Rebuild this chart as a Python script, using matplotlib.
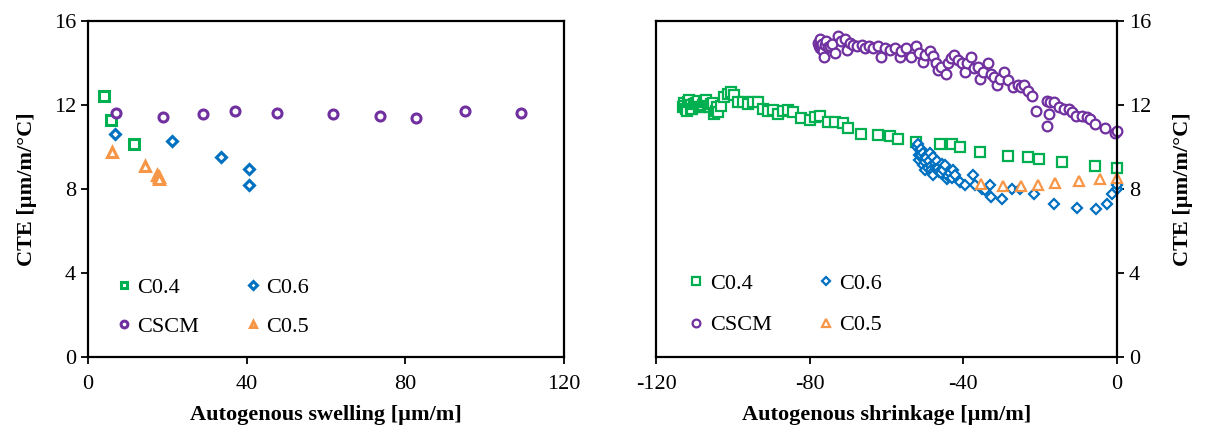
import matplotlib
matplotlib.use('Agg')
import matplotlib.pyplot as plt

plt.rcParams['font.family'] = ['Liberation Serif', 'DejaVu Serif']
plt.rcParams['axes.unicode_minus'] = False

# ---- data: left panel (autogenous swelling) ----
sw_c04_x = [4.0, 5.9, 11.6]
sw_c04_y = [12.43, 11.29, 10.13]
sw_c06_x = [6.8, 21.1, 33.5, 40.6, 40.6]
sw_c06_y = [10.59, 10.29, 9.49, 8.92, 8.18]
sw_cscm_x = [7.0, 19.0, 28.9, 37.0, 47.8, 61.8, 73.6, 82.7, 95.2, 109.3]
sw_cscm_y = [11.60, 11.40, 11.56, 11.68, 11.60, 11.56, 11.44, 11.35, 11.68, 11.60]
sw_c05_x = [6.1, 14.5, 17.5, 17.8, 18.0]
sw_c05_y = [9.73, 9.10, 8.65, 8.54, 8.46]

# ---- data: right panel (autogenous shrinkage) ----
sh_c04_x = [-113.0, -112.8, -112.6, -112.2, -112.0, -111.7, -111.4, -111.0, -110.9, -110.5,
            -110.0, -109.5, -109.1, -108.8, -108.3, -107.8, -107.4, -107.0, -106.5, -106.0,
            -105.7, -105.2, -104.8, -104.5, -104.0, -103.9, -103.0, -102.2, -101.3, -100.4,
            -99.6, -98.7, -97.4, -96.1, -94.8, -93.5, -92.2, -90.9, -89.6, -88.3,
            -87.0, -85.7, -84.3, -82.2, -80.0, -78.7, -77.4, -75.2, -73.3, -71.3,
            -70.0, -66.7, -62.3, -59.1, -57.0, -52.2, -46.1, -43.0, -40.9, -35.7,
            -28.3, -23.2, -20.4, -14.2, -5.8, 0.0]
sh_c04_y = [11.90, 12.10, 11.95, 11.80, 11.70, 12.11, 12.20, 12.00, 11.79, 11.80,
            12.03, 12.10, 12.19, 11.90, 11.87, 12.00, 12.11, 12.20, 11.95, 11.90,
            12.03, 12.10, 11.55, 11.70, 11.90, 11.63, 11.95, 12.35, 12.52, 12.60,
            12.44, 12.11, 12.11, 12.03, 12.11, 12.11, 11.79, 11.71, 11.74, 11.55,
            11.71, 11.74, 11.63, 11.35, 11.26, 11.42, 11.47, 11.19, 11.19, 11.15,
            10.90, 10.61, 10.58, 10.53, 10.39, 10.23, 10.15, 10.15, 9.98, 9.77,
            9.58, 9.53, 9.40, 9.27, 9.06, 9.00]

sh_c06_x = [-52.0, -51.9, -51.6, -51.5, -51.3, -51.0, -50.9, -50.5, -50.4, -50.0,
            -50.0, -49.8, -49.6, -49.1, -49.0, -48.7, -48.5, -48.3, -48.0, -47.8,
            -47.8, -47.4, -47.2, -46.8, -46.5, -46.2, -45.7, -45.5, -45.2, -44.8,
            -44.3, -44.0, -43.5, -43.0, -42.6, -42.2, -40.9, -39.6, -37.4, -37.0,
            -35.2, -34.3, -33.0, -32.8, -29.8, -27.4, -25.2, -21.7, -16.3, -10.4,
            -5.5, -2.6, -1.3, 0.0, 0.0]
sh_c06_y = [10.00, 10.13, 9.37, 9.60, 9.85, 9.90, 9.61, 9.70, 9.13, 9.29,
            8.90, 9.55, 9.45, 8.97, 9.30, 9.69, 9.10, 8.89, 8.80, 9.53,
            8.65, 9.21, 9.00, 9.30, 8.97, 8.80, 8.73, 9.20, 8.90, 9.13,
            8.48, 8.60, 8.73, 8.50, 8.89, 8.65, 8.32, 8.16, 8.65, 8.16,
            8.00, 7.92, 8.19, 7.60, 7.52, 7.97, 8.00, 7.76, 7.27, 7.08,
            7.03, 7.27, 7.76, 8.00, 8.16]

sh_cscm_x = [-77.8, -77.6, -77.4, -77.2, -77.0, -76.8, -76.5, -76.3, -76.0, -75.7,
             -75.3, -74.8, -74.2, -73.5, -72.6, -71.9, -70.9, -70.2, -69.6, -68.7,
             -67.8, -66.5, -65.7, -64.6, -63.5, -62.2, -61.3, -60.4, -59.1, -57.8,
             -56.5, -56.1, -54.8, -53.5, -52.2, -51.6, -50.4, -50.0, -48.7, -47.8,
             -47.2, -46.7, -45.7, -44.6, -43.9, -43.2, -42.3, -41.3, -40.4, -39.6,
             -39.1, -38.0, -37.1, -36.1, -35.7, -34.8, -33.7, -32.8, -31.9, -31.3,
             -30.4, -29.3, -28.3, -27.0, -25.8, -25.0, -24.1, -23.2, -22.2, -21.1,
             -18.3, -18.3, -17.8, -17.4, -16.3, -15.2, -13.9, -12.6, -11.6, -10.7,
             -9.1, -7.8, -7.0, -5.8, -3.0, -0.4, -0.1]
sh_cscm_y = [14.94, 14.80, 15.10, 14.70, 14.77, 14.90, 14.53, 14.29, 14.85, 15.02,
             14.75, 14.77, 14.90, 14.45, 15.26, 15.02, 15.10, 14.61, 14.94, 14.85,
             14.77, 14.85, 14.69, 14.77, 14.69, 14.77, 14.29, 14.69, 14.61, 14.69,
             14.29, 14.53, 14.69, 14.29, 14.77, 14.45, 14.05, 14.37, 14.53, 14.32,
             14.00, 13.65, 13.81, 13.45, 13.97, 14.21, 14.37, 14.13, 13.97, 13.56,
             13.97, 14.29, 13.73, 13.81, 13.24, 13.56, 13.97, 13.48, 13.32, 12.92,
             13.24, 13.56, 13.19, 12.84, 12.92, 12.84, 12.92, 12.65, 12.39, 11.71,
             12.19, 10.98, 11.55, 12.11, 12.11, 11.87, 11.79, 11.79, 11.63, 11.47,
             11.47, 11.39, 11.31, 11.06, 10.87, 10.66, 10.74]

sh_c05_x = [-35.4, -29.6, -25.0, -20.6, -16.1, -10.0, -4.3, 0.0]
sh_c05_y = [8.21, 8.13, 8.11, 8.16, 8.29, 8.37, 8.45, 8.52]

labels = ['C0.4', 'CSCM', 'C0.6', 'C0.5']
colors = ['#00B050', '#7030A0', '#0070C0', '#F79646']
markers = ['s', 'o', 'D', '^']

fig = plt.figure(figsize=(12.07, 4.37), dpi=100)
ax1 = fig.add_axes([0.0729, 0.183, 0.394, 0.770])
ax2 = fig.add_axes([0.5435, 0.183, 0.3819, 0.770])


def draw(ax, series, ms, mew):
    handles = []
    for (x, y), lab, c, m in zip(series, labels, colors, markers):
        size = ms * 0.8 if m == 'D' else ms
        h, = ax.plot(x, y, linestyle='none', marker=m, markersize=size,
                     markerfacecolor='white', markeredgecolor=c,
                     markeredgewidth=mew, label=lab, clip_on=False)
        handles.append(h)
    return handles


h1 = draw(ax1, [(sw_c04_x, sw_c04_y), (sw_cscm_x, sw_cscm_y),
                (sw_c06_x, sw_c06_y), (sw_c05_x, sw_c05_y)], 6.5, 2.2)
h2 = draw(ax2, [(sh_c04_x, sh_c04_y), (sh_cscm_x, sh_cscm_y),
                (sh_c06_x, sh_c06_y), (sh_c05_x, sh_c05_y)], 7, 1.6)

ax1.set_xlim(0, 120)
ax1.set_xticks([0, 40, 80, 120])
ax2.set_xlim(-120, 0)
ax2.set_xticks([-120, -80, -40, 0])

for ax in (ax1, ax2):
    ax.set_ylim(0, 16)
    ax.set_yticks([0, 4, 8, 12, 16])
    for s in ax.spines.values():
        s.set_linewidth(1.6)
    ax.tick_params(direction='out', length=5, width=1.3, labelsize=16)
    ax.tick_params(axis='x', pad=8)
    ax.set_ylabel('CTE [µm/m/°C]', fontsize=16, fontweight='bold')

ax1.set_xlabel('Autogenous swelling [µm/m]', fontsize=16, fontweight='bold', labelpad=8)
ax2.set_xlabel('Autogenous shrinkage [µm/m]', fontsize=16, fontweight='bold', labelpad=8)
ax1.yaxis.labelpad = 12

ax2.yaxis.tick_right()
ax2.yaxis.set_label_position('right')
ax2.yaxis.labelpad = 16
ax2.set_ylabel('CTE [µm/m/°C]', fontsize=16, fontweight='bold', rotation=90)

ax1.legend(handles=h1, ncol=2, loc='lower left', bbox_to_anchor=(0.020, 0.0),
           frameon=False, fontsize=16, handlelength=0.6, handletextpad=0.3,
           columnspacing=2.1, labelspacing=0.85, markerscale=0.75)
ax2.legend(handles=h2, ncol=2, loc='lower left', bbox_to_anchor=(0.030, 0.005),
           frameon=False, fontsize=16, handlelength=0.6, handletextpad=0.3,
           columnspacing=2.15, labelspacing=0.95, markerscale=0.8)

fig.savefig('out.png', dpi=100)
